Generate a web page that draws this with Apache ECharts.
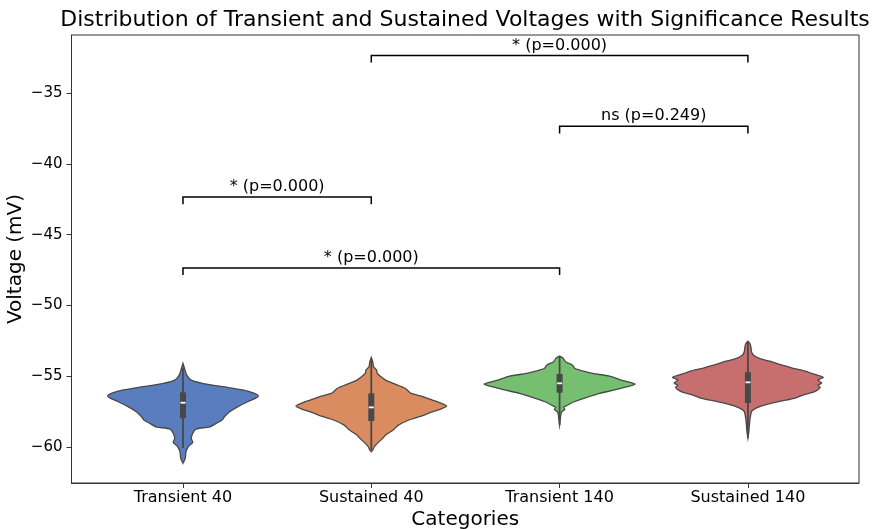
<!DOCTYPE html>
<html><head><meta charset="utf-8">
<script src="https://cdn.jsdelivr.net/npm/echarts@6/dist/echarts.min.js"></script>
<style>html,body{margin:0;padding:0;background:#fff}#c{width:883px;height:529px}</style>
</head><body><div id="c"></div>
<script>
// ---------- DATA ----------
const categories = ['Transient 40', 'Sustained 40', 'Transient 140', 'Sustained 140'];
const yTickValues = [-60, -55, -50, -45, -40, -35];

// Density profiles: voltage levels and relative density (max = 1)
const t40Volt = [-54.09,-54.44,-54.92,-55.27,-55.50,-55.74,-55.97,-56.21,-56.38,-56.56,-56.80,-57.15,-57.51,-57.86,-58.09,-58.33,-58.57,-58.73,-59.03,-59.39,-59.67,-59.98,-60.33,-60.80,-61.15];
const t40Dens = [0,0.02,0.05,0.11,0.26,0.53,0.79,0.95,1.0,0.96,0.86,0.73,0.62,0.55,0.52,0.44,0.36,0.17,0.13,0.11,0.13,0.07,0.04,0.03,0];

const s40Volt = [-53.67,-53.98,-54.33,-54.56,-54.80,-55.04,-55.27,-55.50,-55.85,-56.09,-56.21,-56.45,-56.68,-56.91,-57.10,-57.30,-57.51,-57.86,-58.09,-58.45,-58.80,-59.15,-59.39,-59.74,-59.98,-60.21,-60.33];
const s40Dens = [0,0.02,0.03,0.07,0.08,0.13,0.19,0.29,0.45,0.50,0.53,0.69,0.81,0.93,1.0,0.93,0.81,0.64,0.50,0.36,0.29,0.19,0.15,0.08,0.04,0.02,0];

const t140Volt = [-53.57,-53.74,-53.98,-54.21,-54.44,-54.61,-54.80,-54.99,-55.27,-55.55,-55.74,-55.97,-56.21,-56.56,-56.80,-57.03,-57.20,-57.34,-57.46,-57.62,-57.86,-58.45];
const t140Dens = [0,0.05,0.08,0.17,0.20,0.29,0.44,0.66,0.82,1.0,0.90,0.73,0.53,0.32,0.19,0.11,0.05,0.07,0.04,0.02,0.013,0];

const s140Volt = [-52.53,-52.72,-52.95,-53.31,-53.54,-53.78,-53.94,-54.13,-54.42,-54.65,-54.89,-55.08,-55.25,-55.36,-55.48,-55.64,-55.78,-55.95,-56.12,-56.31,-56.54,-56.77,-57.01,-57.25,-57.48,-57.95,-58.43,-58.89,-59.36];
const s140Dens = [0,0.03,0.04,0.05,0.08,0.17,0.29,0.40,0.59,0.77,0.90,1.0,0.93,0.95,0.98,0.93,0.96,0.93,0.87,0.74,0.63,0.42,0.24,0.11,0.05,0.03,0.02,0.013,0];

// Box summary
const whiskerLow = [-60.07, -60.21, -58.45, -59.36];
const q1 = [-57.97, -58.16, -56.16, -56.89];
const median = [-56.87, -57.20, -55.50, -55.43];
const q3 = [-56.14, -56.21, -54.84, -54.72];
const whiskerHigh = [-54.40, -53.86, -53.57, -52.53];

// Significance brackets
const bracketFrom = [1, 2, 0, 0];
const bracketTo = [3, 3, 1, 2];
const bracketLevel = [-32.35, -37.35, -42.35, -47.35];
const bracketText = ['* (p=0.000)', 'ns (p=0.249)', '* (p=0.000)', '* (p=0.000)'];

// ---------- CHART ----------
const volts = [t40Volt, s40Volt, t140Volt, s140Volt];
const dens = [t40Dens, s40Dens, t140Dens, s140Dens];
const colors = ['#597dbf', '#da8b5f', '#76bf71', '#c76e6e'];
const lineCol = '#484848';
const FONT = 'DejaVu Sans';
const HALF = 0.4;

const chart = echarts.init(document.getElementById('c'), null, {renderer: 'canvas'});

const violinData = categories.map((c, i) => [i]);
const boxData = categories.map((c, i) => [i, whiskerLow[i], q1[i], median[i], q3[i], whiskerHigh[i]]);
const bracketData = bracketFrom.map((f, i) => [f, bracketTo[i], bracketLevel[i], i]);

const option = {
  animation: false,
  backgroundColor: '#fff',
  textStyle: {fontFamily: FONT},
  grid: {left: 71.5, right: 24, top: 35, bottom: 46, containLabel: false, outerBoundsMode: 'none',
    show: true, borderColor: '#333', borderWidth: 1, backgroundColor: 'transparent'},
  graphic: [{
    type: 'text', x: 465, y: 20,
    style: {text: 'Distribution of Transient and Sustained Voltages with Significance Results',
      fontSize: 22, fontFamily: FONT, fill: '#000', textAlign: 'center', textVerticalAlign: 'middle'}
  }],
  xAxis: {
    type: 'value', min: -0.592, max: 3.59,
    splitLine: {show: false},
    axisLine: {show: true, onZero: false, lineStyle: {color: '#333', width: 1}},
    axisTick: {show: true, customValues: [0, 1, 2, 3], length: 5, lineStyle: {color: '#333'}},
    axisLabel: {customValues: [0, 1, 2, 3], formatter: v => categories[Math.round(v)], fontSize: 16, color: '#000', margin: 7, fontFamily: FONT},
    name: 'Categories', nameLocation: 'middle', nameGap: 27, nameMoveOverlap: false,
    nameTextStyle: {fontSize: 20, color: '#000', fontFamily: FONT}
  },
  yAxis: {
    type: 'value', min: -62.54, max: -30.9,
    splitLine: {show: false},
    axisLine: {show: true, onZero: false, lineStyle: {color: '#333', width: 1}},
    axisTick: {show: true, customValues: yTickValues, length: 5, lineStyle: {color: '#333'}},
    axisLabel: {customValues: yTickValues, formatter: v => String(v).replace('-', '\u2212'), fontSize: 15, color: '#000', margin: 9, fontFamily: FONT},
    name: 'Voltage (mV)', nameLocation: 'middle', nameGap: 46, nameMoveOverlap: false,
    nameTextStyle: {fontSize: 20, color: '#000', fontFamily: FONT}
  },
  series: [
    {
      type: 'custom', data: violinData, silent: true, clip: true,
      renderItem: function (params, api) {
        const i = api.value(0);
        const V = volts[i], D = dens[i];
        const pts = [];
        for (let k = 0; k < V.length; k++) pts.push(api.coord([i + D[k] * HALF, V[k]]));
        for (let k = V.length - 1; k >= 0; k--) pts.push(api.coord([i - D[k] * HALF, V[k]]));
        return {type: 'polygon', shape: {points: pts, smooth: 0.25},
          style: {fill: colors[i], stroke: lineCol, lineWidth: 1.3}};
      }
    },
    {
      type: 'custom', data: boxData, silent: true,
      renderItem: function (params, api) {
        const x = api.value(0);
        const lo = api.coord([x, api.value(1)]);
        const b1 = api.coord([x, api.value(2)]);
        const md = api.coord([x, api.value(3)]);
        const b3 = api.coord([x, api.value(4)]);
        const hi = api.coord([x, api.value(5)]);
        return {type: 'group', children: [
          {type: 'line', shape: {x1: lo[0], y1: lo[1], x2: hi[0], y2: hi[1]}, style: {stroke: lineCol, lineWidth: 1.8}},
          {type: 'rect', shape: {x: b1[0] - 3, y: b3[1], width: 6, height: b1[1] - b3[1]}, style: {fill: lineCol}},
          {type: 'line', shape: {x1: md[0] - 2.5, y1: md[1], x2: md[0] + 2.5, y2: md[1]}, style: {stroke: '#fff', lineWidth: 1.8}}
        ]};
      }
    },
    {
      type: 'custom', data: bracketData, silent: true, clip: false,
      renderItem: function (params, api) {
        const f = api.value(0), t = api.value(1), lv = api.value(2);
        const idx = api.value(3);
        const p1 = api.coord([f, lv - 0.5]);
        const p2 = api.coord([f, lv]);
        const p3 = api.coord([t, lv]);
        const p4 = api.coord([t, lv - 0.5]);
        return {type: 'group', children: [
          {type: 'polyline', shape: {points: [p1, p2, p3, p4]}, style: {stroke: '#000', lineWidth: 1.5, fill: null}},
          {type: 'text', x: (p2[0] + p3[0]) / 2, y: p2[1] - 2,
            style: {text: bracketText[idx], fontSize: 16, fontFamily: FONT, fill: '#000', textAlign: 'center', textVerticalAlign: 'bottom'}}
        ]};
      }
    }
  ]
};
chart.setOption(option);
</script>
</body></html>
